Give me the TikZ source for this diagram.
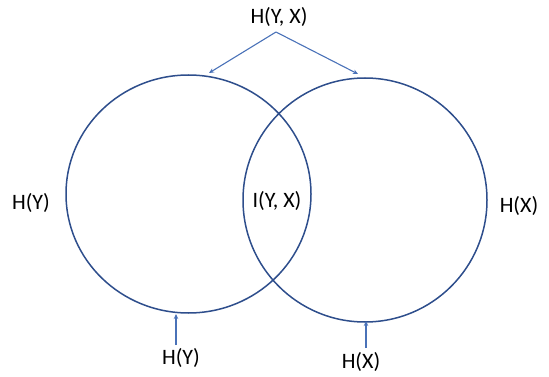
\documentclass[tikz,border=0pt]{standalone}
\usepackage{fontspec}
\setmainfont{Carlito}
\usetikzlibrary{arrows.meta,shapes.geometric}
\definecolor{ringblue}{HTML}{2E4E8C}
\definecolor{arrblue}{HTML}{4A72B8}
\tikzset{
  ring/.style={draw=ringblue, line width=1.5pt, ellipse, inner sep=0pt},
  lbl/.style={font=\fontsize{22}{25}\selectfont, text=black, inner sep=0pt},
  pointer/.style={draw=arrblue, line width=1.1pt, -{Stealth[length=5pt,width=4.5pt]}}
}
\begin{document}
\begin{tikzpicture}[x=1pt,y=-1pt]
\useasboundingbox (0,0) rectangle (549,377);
\node[ring, minimum width=245pt, minimum height=238pt] (left) at (188.5,194) {};
\node[ring, minimum width=244pt, minimum height=244pt] (right) at (365,200) {};
\node[lbl] (hyx) at (279,17) {H(Y, X)};
\node[lbl] (hyl) at (31,203) {H(Y)};
\node[lbl] (hxr) at (519,206) {H(X)};
\node[lbl] (iyx) at (277,201) {I(Y, X)};
\node[lbl] (hyb) at (181,358) {H(Y)};
\node[lbl] (hxb) at (361,362) {H(X)};
\coordinate (top) at (276,32);
\coordinate (ltop) at (209,73);
\coordinate (rtop) at (358,74);
\coordinate (lbot) at (176,314);
\coordinate (lbase) at (176,345);
\coordinate (rbot) at (366,321);
\coordinate (rbase) at (366,348);
\draw[pointer] (top) -- (ltop);
\draw[pointer] (top) -- (rtop);
\draw[pointer] (lbase) -- (lbot);
\draw[pointer] (rbase) -- (rbot);
\end{tikzpicture}
\end{document}
